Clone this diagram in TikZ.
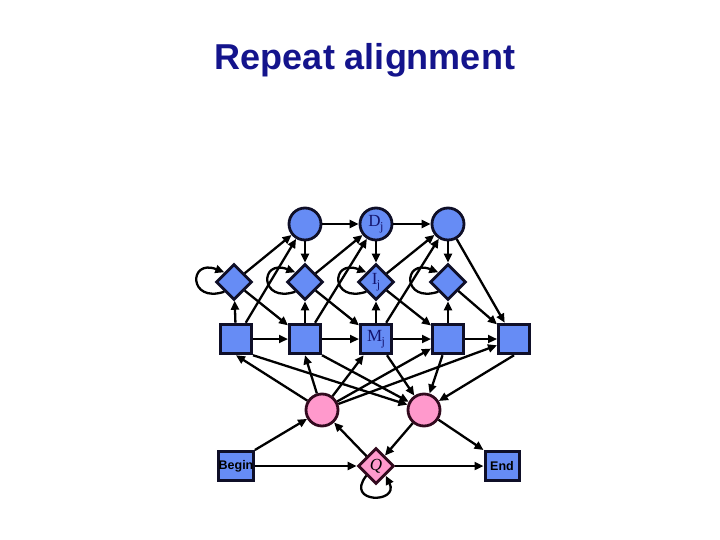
\documentclass[tikz,border=0pt]{standalone}
\usepackage{fontspec}
\setmainfont{Liberation Serif}
\newfontfamily\sansfam{Liberation Sans}
\usetikzlibrary{shapes.geometric,arrows.meta}
\definecolor{nodeblue}{RGB}{102,140,245}
\definecolor{nodepink}{RGB}{255,153,204}
\definecolor{edgeline}{RGB}{15,15,40}
\definecolor{pinkline}{RGB}{50,10,30}
\definecolor{titleblue}{RGB}{20,20,140}
\definecolor{labelblue}{RGB}{20,20,110}
\newcommand\statelab[1]{{\color{labelblue}\fontsize{17}{17}\selectfont #1\kern-0.5pt\raisebox{-4pt}{\fontsize{12}{12}\selectfont j}}}
\begin{document}
\begin{tikzpicture}[x=1pt,y=-1pt,
  dstate/.style={circle,draw=edgeline,fill=nodeblue,line width=2.8pt,minimum size=32pt,inner sep=0pt},
  istate/.style={diamond,draw=edgeline,fill=nodeblue,line width=2.8pt,minimum width=36pt,minimum height=36pt,inner sep=0pt},
  mstate/.style={rectangle,draw=edgeline,fill=nodeblue,line width=3pt,minimum width=31pt,minimum height=29.5pt,inner sep=0pt},
  pstate/.style={circle,draw=pinkline,fill=nodepink,line width=2.8pt,minimum size=32pt,inner sep=0pt},
  qstate/.style={diamond,draw=pinkline,fill=nodepink,line width=2.8pt,minimum width=36pt,minimum height=36pt,inner sep=0pt},
  termstate/.style={rectangle,draw=edgeline,fill=nodeblue,line width=3pt,minimum width=34pt,minimum height=29pt,inner sep=0pt,
    font=\sansfam\bfseries\fontsize{12.5}{12.5}\selectfont},
  tr/.style={draw=black,line width=2.3pt,-{Triangle[length=9pt,width=8pt]}}
]
\useasboundingbox (0,0) rectangle (720,540);

\node[anchor=base,text=titleblue,font=\sansfam\bfseries\fontsize{36}{36}\selectfont] (title) at (365,70) {Repeat alignment};

% delete states
\node[dstate] (D2) at (305,224) {};
\node[dstate] (D3) at (376,224) {\statelab{D}};
\node[dstate] (D4) at (448,224) {};
% insert states
\node[istate] (I1) at (234,282) {};
\node[istate] (I2) at (305,282) {};
\node[istate] (I3) at (376,282) {\statelab{I}};
\node[istate] (I4) at (448,282) {};
% match states
\node[mstate] (M1) at (236,339) {};
\node[mstate] (M2) at (305,339) {};
\node[mstate] (M3) at (376,339) {\statelab{M}};
\node[mstate] (M4) at (448,339) {};
\node[mstate] (M5) at (514,339) {};
% repeat states
\node[pstate] (P1) at (322,410) {};
\node[pstate] (P2) at (424,410) {};
\node[termstate] (Begin) at (236,466) {Begin};
\node[qstate] (Q) at (376,466) {\fontsize{17}{17}\selectfont\itshape Q};
\node[termstate] (End) at (502,466) {End};

% delete chain
\draw[tr] (D2) -- (D3);
\draw[tr] (D3) -- (D4);
\draw[tr] (D2) -- (I2);
\draw[tr] (D3) -- (I3);
\draw[tr] (D4) -- (I4);
\draw[tr] (D4) -- (M5);
% match to insert
\draw[tr] (M1) -- (I1);
\draw[tr] (M2) -- (I2);
\draw[tr] (M3) -- (I3);
\draw[tr] (M4) -- (I4);
% insert to next match
\draw[tr] (I1) -- (M2);
\draw[tr] (I2) -- (M3);
\draw[tr] (I3) -- (M4);
\draw[tr] (I4) -- (M5);
% insert to next delete
\draw[tr] (I1) -- (D2);
\draw[tr] (I2) -- (D3);
\draw[tr] (I3) -- (D4);
% match to next delete
\draw[tr] (M1) -- (D2);
\draw[tr] (M2) -- (D3);
\draw[tr] (M3) -- (D4);
% match chain
\draw[tr] (M1) -- (M2);
\draw[tr] (M2) -- (M3);
\draw[tr] (M3) -- (M4);
\draw[tr] (M4) -- (M5);
% insert self loops
\foreach \n in {I1,I2,I3,I4}{
  \draw[tr] (\n.south west) .. controls +(-36,12) and +(-36,-14) .. (\n.north west);
}
% repeat start to matches
\draw[tr] (P1) -- (M1.south);
\draw[tr] (P1) -- (M2.south);
\draw[tr] (P1) -- (M3);
\draw[tr] (P1) -- (M4);
\draw[tr] (P1) -- (M5);
% matches to repeat end
\draw[tr] (M1.south east) -- (P2);
\draw[tr] (M2.south east) -- (P2);
\draw[tr] (M3) -- (P2);
\draw[tr] (M4) -- (P2);
\draw[tr] (M5.south) -- (P2);
% bottom row
\draw[tr] (Begin.north east) -- (P1);
\draw[tr] (Begin) -- (Q);
\draw[tr] (Q) -- (P1);
\draw[tr] (P2) -- (Q);
\draw[tr] (P2) -- (End.north west);
\draw[tr] (Q) -- (End);
\draw[tr] (Q.south west) .. controls +(-22,28) and +(14,28) .. (Q.south east);
\end{tikzpicture}
\end{document}
